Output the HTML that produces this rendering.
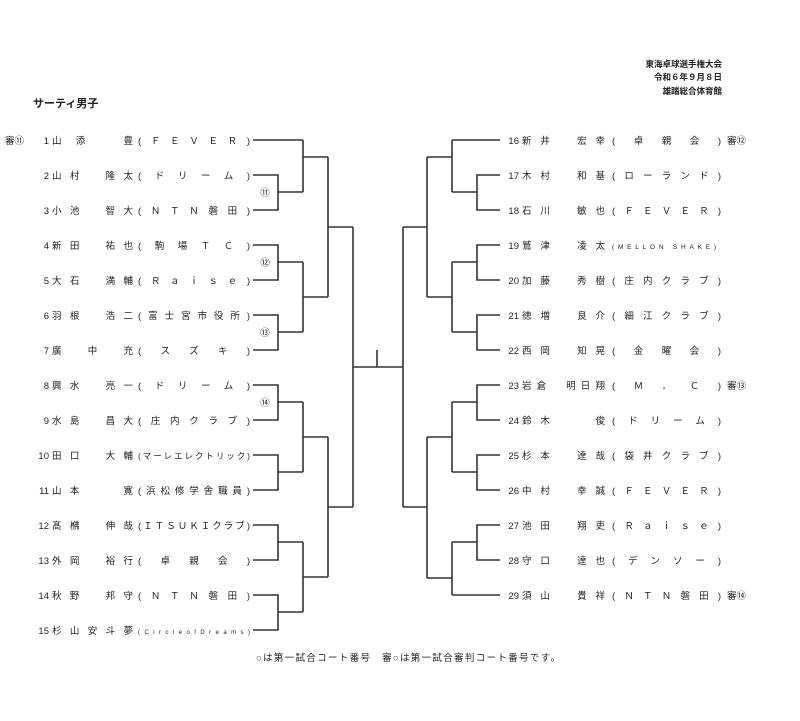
<!DOCTYPE html>
<html><head><meta charset="utf-8"><style>
html,body{margin:0;padding:0;background:#fff;}
svg{display:block;}
text{font-family:"Liberation Sans","Noto Sans CJK JP",sans-serif;fill:#222;}
</style></head><body>
<svg width="800" height="721" viewBox="0 0 800 721" xmlns="http://www.w3.org/2000/svg">
<g font-weight="bold" font-size="8.5" text-anchor="end">
<text x="722" y="67">東海卓球選手権大会</text>
<text x="722" y="80">令和６年９月８日</text>
<text x="722" y="94">雄踏総合体育館</text>
</g>
<text x="33" y="107" font-size="11" font-weight="bold">サーティ男子</text>

<g fill="none" stroke="#333" stroke-width="1.6">
<!-- left -->
<path d="M253 140H303"/>
<path d="M253 175H278V210H253M278 192H303"/>
<path d="M303 140V192M303 157H328"/>
<path d="M253 245H278V280H253M278 262H303"/>
<path d="M253 315H278V350H253M278 332H303"/>
<path d="M303 262V332M303 297H328"/>
<path d="M328 157V297M328 227H353"/>
<path d="M253 385H278V420H253M278 402H303"/>
<path d="M253 455H278V490H253M278 472H303"/>
<path d="M303 402V472M303 437H328"/>
<path d="M253 525H278V560H253M278 542H303"/>
<path d="M253 595H278V630H253M278 612H303"/>
<path d="M303 542V612M303 577H328"/>
<path d="M328 437V577M328 507H353"/>
<path d="M353 227V507M353 367H403M377 350V367"/>
<!-- right -->
<path d="M500 140H452"/>
<path d="M500 175H477V210H500M477 192H452"/>
<path d="M452 140V192M452 157H427"/>
<path d="M500 245H477V280H500M477 262H452"/>
<path d="M500 315H477V350H500M477 332H452"/>
<path d="M452 262V332M452 297H427"/>
<path d="M427 157V297M427 227H403"/>
<path d="M500 385H477V420H500M477 402H452"/>
<path d="M500 455H477V490H500M477 472H452"/>
<path d="M452 402V472M452 437H427"/>
<path d="M500 525H477V560H500M477 542H452"/>
<path d="M500 595H452"/>
<path d="M452 542V595M452 578H427"/>
<path d="M427 437V578M427 507H403"/>
<path d="M403 227V507"/>
</g>

<g font-size="9.5">
<text x="5" y="144">審⑪</text>
<text x="265" y="196" text-anchor="middle">⑪</text>
<text x="265" y="266" text-anchor="middle">⑫</text>
<text x="265" y="336" text-anchor="middle">⑬</text>
<text x="265" y="406" text-anchor="middle">⑭</text>

<!-- left entries -->
<g text-anchor="end">
<text x="49" y="144">1</text><text x="49" y="179">2</text><text x="49" y="214">3</text><text x="49" y="249">4</text><text x="49" y="284">5</text><text x="49" y="319">6</text><text x="49" y="354">7</text><text x="49" y="389">8</text><text x="49" y="424">9</text><text x="49" y="459">10</text><text x="49" y="494">11</text><text x="49" y="529">12</text><text x="49" y="564">13</text><text x="49" y="599">14</text><text x="49" y="634">15</text>
</g>
<g lengthAdjust="spacing">
<text x="52" y="144" textLength="81">山添　豊</text>
<text x="52" y="179" textLength="81">山村　隆太</text>
<text x="52" y="214" textLength="81">小池　智大</text>
<text x="52" y="249" textLength="81">新田　祐也</text>
<text x="52" y="284" textLength="81">大石　満輔</text>
<text x="52" y="319" textLength="81">羽根　浩二</text>
<text x="52" y="354" textLength="81">廣　中　充</text>
<text x="52" y="389" textLength="81">興水　亮一</text>
<text x="52" y="424" textLength="81">水島　昌大</text>
<text x="52" y="459" textLength="81">田口　大輔</text>
<text x="52" y="494" textLength="81">山本　　寛</text>
<text x="52" y="529" textLength="81">髙梻　伸哉</text>
<text x="52" y="564" textLength="81">外岡　裕行</text>
<text x="52" y="599" textLength="81">秋野　邦守</text>
<text x="52" y="634" textLength="81">杉山安斗夢</text>

<text x="138" y="144" textLength="112">(ＦＥＶＥＲ)</text>
<text x="138" y="179" textLength="112">(ドリーム)</text>
<text x="138" y="214" textLength="112">(ＮＴＮ磐田)</text>
<text x="138" y="249" textLength="112">(駒場ＴＣ)</text>
<text x="138" y="284" textLength="112">(Ｒａｉｓｅ)</text>
<text x="138" y="319" textLength="112">(富士宮市役所)</text>
<text x="138" y="354" textLength="112">(スズキ)</text>
<text x="138" y="389" textLength="112">(ドリーム)</text>
<text x="138" y="424" textLength="112">(庄内クラブ)</text>
<text x="138" y="459" textLength="112" font-size="8.5">(マーレエレクトリック)</text>
<text x="138" y="494" textLength="112">(浜松修学舎職員)</text>
<text x="138" y="529" textLength="112">(ＩＴＳＵＫＩクラブ)</text>
<text x="138" y="564" textLength="112">(卓親会)</text>
<text x="138" y="599" textLength="112">(ＮＴＮ磐田)</text>
<text x="138" y="634" textLength="112" font-size="6">(CircleofDreams)</text>
</g>

<!-- right entries -->
<g text-anchor="end">
<text x="519" y="144">16</text><text x="519" y="179">17</text><text x="519" y="214">18</text><text x="519" y="249">19</text><text x="519" y="284">20</text><text x="519" y="319">21</text><text x="519" y="354">22</text><text x="519" y="389">23</text><text x="519" y="424">24</text><text x="519" y="459">25</text><text x="519" y="494">26</text><text x="519" y="529">27</text><text x="519" y="564">28</text><text x="519" y="599">29</text>
</g>
<g lengthAdjust="spacing">
<text x="522" y="144" textLength="83">新井　宏幸</text>
<text x="522" y="179" textLength="83">木村　和基</text>
<text x="522" y="214" textLength="83">石川　敏也</text>
<text x="522" y="249" textLength="83">鷲津　凌太</text>
<text x="522" y="284" textLength="83">加藤　秀樹</text>
<text x="522" y="319" textLength="83">徳増　良介</text>
<text x="522" y="354" textLength="83">西岡　知晃</text>
<text x="522" y="389" textLength="83">岩倉　明日翔</text>
<text x="522" y="424" textLength="83">鈴木　　俊</text>
<text x="522" y="459" textLength="83">杉本　達哉</text>
<text x="522" y="494" textLength="83">中村　幸誠</text>
<text x="522" y="529" textLength="83">池田　翔吏</text>
<text x="522" y="564" textLength="83">守口　達也</text>
<text x="522" y="599" textLength="83">須山　貴祥</text>

<text x="612" y="144" textLength="109">(卓親会)</text>
<text x="612" y="179" textLength="109">(ローランド)</text>
<text x="612" y="214" textLength="109">(ＦＥＶＥＲ)</text>
<text x="612" y="249" textLength="104" font-size="6.5">(MELLON SHAKE)</text>
<text x="612" y="284" textLength="109">(庄内クラブ)</text>
<text x="612" y="319" textLength="109">(細江クラブ)</text>
<text x="612" y="354" textLength="109">(金曜会)</text>
<text x="612" y="389" textLength="109">(Ｍ．Ｃ)</text>
<text x="612" y="424" textLength="109">(ドリーム)</text>
<text x="612" y="459" textLength="109">(袋井クラブ)</text>
<text x="612" y="494" textLength="109">(ＦＥＶＥＲ)</text>
<text x="612" y="529" textLength="109">(Ｒａｉｓｅ)</text>
<text x="612" y="564" textLength="109">(デンソー)</text>
<text x="612" y="599" textLength="109">(ＮＴＮ磐田)</text>
</g>
<text x="727" y="144">審⑫</text>
<text x="727" y="389">審⑬</text>
<text x="727" y="599">審⑭</text>
</g>

<text x="256" y="661" font-size="9.5" textLength="304" lengthAdjust="spacing">○は第一試合コート番号　審○は第一試合審判コート番号です。</text>
</svg>
</body></html>
